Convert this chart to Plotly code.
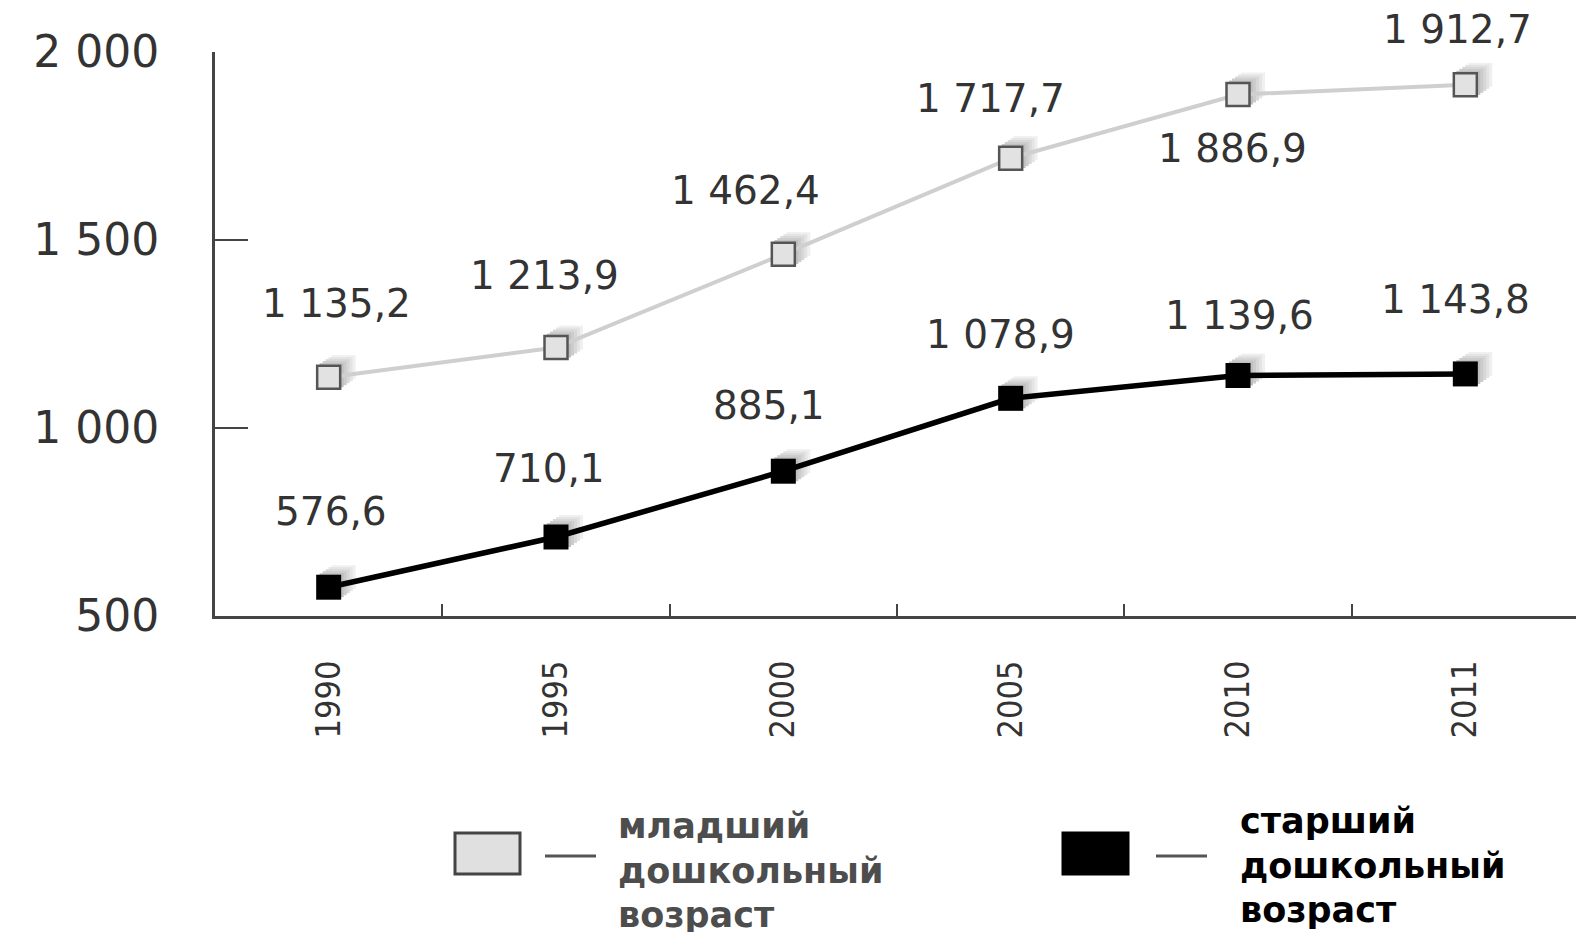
import plotly.graph_objects as go

years = ["1990", "1995", "2000", "2005", "2010", "2011"]
young = [1135.2, 1213.9, 1462.4, 1717.7, 1886.9, 1912.7]
old = [576.6, 710.1, 885.1, 1078.9, 1139.6, 1143.8]
young_labels = ["1 135,2", "1 213,9", "1 462,4", "1 717,7", "1 886,9", "1 912,7"]
old_labels = ["576,6", "710,1", "885,1", "1 078,9", "1 139,6", "1 143,8"]
y_tickvals = [500, 1000, 1500, 2000]
y_ticktext = ["500", "1 000", "1 500", "2 000"]
legend_lines = [["младший", "дошкольный", "возраст"], ["старший", "дошкольный", "возраст"]]

# label offsets (pixels) relative to each point: (xshift, yshift)
young_off = [(8, 74), (-12, 72), (-38, 64), (-20, 60), (-6, -54), (-8, 55)]
old_off = [(2, 76), (-7, 69), (-14, 66), (-10, 64), (1, 60), (-10, 74)]

W, H = 1584, 932
OFF = 8  # page body margin
# plot area in window pixels: left 215, right 1579, top 52, bottom 616
L, T = 215 - OFF, 52 - OFF
R = W - (1579 - OFF)
B = H - (616 - OFF)
PW, PH = W - L - R, H - T - B

def px(x):
    return (x - OFF - L) / PW

def py(y):
    return (H - B - (y - OFF)) / PH

fig = go.Figure()

# helper (invisible) trace so the visible main axes get their categories
fig.add_trace(go.Scatter(x=years, y=young, mode="markers", marker=dict(opacity=0),
                         showlegend=False, hoverinfo="skip"))

# marker "extrusion" shadows on shifted axes (far layers first)
shadow_layers = [(15, 10, "#f0f0f0"), (12, 8, "#e4e4e4"), (9, 6, "#d8d8d8"),
                 (6, 4, "#cccccc"), (3, 2, "#c0c0c0")]
n = 1
for dx, dy, col in shadow_layers:
    n += 1
    d = dx / PW
    e = dy / PH
    fig.update_layout(**{
        f"xaxis{n}": dict(type="category", domain=[d, 1], range=[-0.5, 5.5 - 6 * d],
                          visible=False, anchor=f"y{n}", fixedrange=True, automargin=False),
        f"yaxis{n}": dict(domain=[e, 1], range=[500, 2000 - 1500 * e],
                          visible=False, anchor=f"x{n}", fixedrange=True, automargin=False),
    })
    for vals in (young, old):
        fig.add_trace(go.Scatter(
            x=years, y=vals, mode="markers", xaxis=f"x{n}", yaxis=f"y{n}",
            marker=dict(symbol="square", size=24, color=col, line=dict(width=0)),
            showlegend=False, hoverinfo="skip", cliponaxis=False))

# main visible series on a top-most subplot identical to the main one
n += 1
fig.update_layout(**{
    f"xaxis{n}": dict(type="category", domain=[0, 1], range=[-0.5, 5.5],
                      visible=False, anchor=f"y{n}", fixedrange=True, automargin=False),
    f"yaxis{n}": dict(domain=[0, 1], range=[500, 2000],
                      visible=False, anchor=f"x{n}", fixedrange=True, automargin=False),
})
fig.add_trace(go.Scatter(
    x=years, y=young, mode="lines+markers", name="младший дошкольный возраст",
    xaxis=f"x{n}", yaxis=f"y{n}",
    line=dict(color="#cfcfcf", width=4),
    marker=dict(symbol="square", size=23, color="#e2e2e2", line=dict(color="#555555", width=2.5)),
    showlegend=False, cliponaxis=False))
fig.add_trace(go.Scatter(
    x=years, y=old, mode="lines+markers", name="старший дошкольный возраст",
    xaxis=f"x{n}", yaxis=f"y{n}",
    line=dict(color="#000000", width=5.5),
    marker=dict(symbol="square", size=25, color="#000000", line=dict(color="#000000", width=0)),
    showlegend=False, cliponaxis=False))

label_font = dict(family="DejaVu Sans, Verdana, sans-serif", size=39, color="#333333")
for vals, labels, offs in ((young, young_labels, young_off), (old, old_labels, old_off)):
    for i, (yv, t, (sx, sy)) in enumerate(zip(vals, labels, offs)):
        fig.add_annotation(x=i, y=yv, xref="x", yref="y", text=t, showarrow=False,
                           xshift=sx, yshift=sy, font=label_font)

# legend drawn manually (window pixel positions)
legend_items = [
    dict(box=(455, 833, 520, 874), fill="#e0e0e0", border="#444444", dash=(545, 596, 856),
         tx=616, ty=(826, 871, 915), color="#4d4d4d"),
    dict(box=(1063, 833, 1128, 874), fill="#000000", border="#000000", dash=(1156, 1207, 856),
         tx=1238, ty=(821, 866, 910), color="#000000"),
]
for item, lines in zip(legend_items, legend_lines):
    x0, y0, x1, y1 = item["box"]
    fig.add_shape(type="rect", xref="paper", yref="paper", x0=px(x0), x1=px(x1),
                  y0=py(y1), y1=py(y0), fillcolor=item["fill"],
                  line=dict(color=item["border"], width=3))
    a, b, yy = item["dash"]
    fig.add_shape(type="line", xref="paper", yref="paper", x0=px(a), x1=px(b),
                  y0=py(yy), y1=py(yy), line=dict(color="#555555", width=3))
    for line, ty in zip(lines, item["ty"]):
        fig.add_annotation(xref="paper", yref="paper", x=px(item["tx"]), y=py(ty),
                           xanchor="left", yanchor="middle", align="left", showarrow=False,
                           text=line,
                           font=dict(family="DejaVu Sans, sans-serif", size=35,
                                     color=item["color"], weight="bold"))

fig.update_layout(
    width=W, height=H,
    margin=dict(l=L, r=R, t=T, b=B, pad=0, autoexpand=False),
    paper_bgcolor="white", plot_bgcolor="rgba(0,0,0,0)",
    showlegend=False,
    xaxis=dict(type="category", range=[-0.5, 5.5], tickson="boundaries",
               showline=True, linecolor="#444444", linewidth=3,
               ticks="inside", ticklen=12, tickwidth=2, tickcolor="#444444",
               showgrid=False, zeroline=False, tickangle=-90, automargin=False,
               ticklabelstandoff=28, fixedrange=True,
               tickfont=dict(family="Liberation Sans Narrow, DejaVu Sans Condensed, sans-serif",
                             size=34, color="#333333")),
    yaxis=dict(range=[500, 2000], tickvals=y_tickvals, ticktext=y_ticktext,
               showline=True, linecolor="#444444", linewidth=3, automargin=False,
               ticks="inside", ticklen=33, tickwidth=2, tickcolor="#444444",
               showgrid=False, zeroline=False, ticklabelstandoff=44, fixedrange=True,
               tickfont=dict(family="DejaVu Sans, Verdana, sans-serif", size=44, color="#333333")),
)

fig.write_html("out.html")
